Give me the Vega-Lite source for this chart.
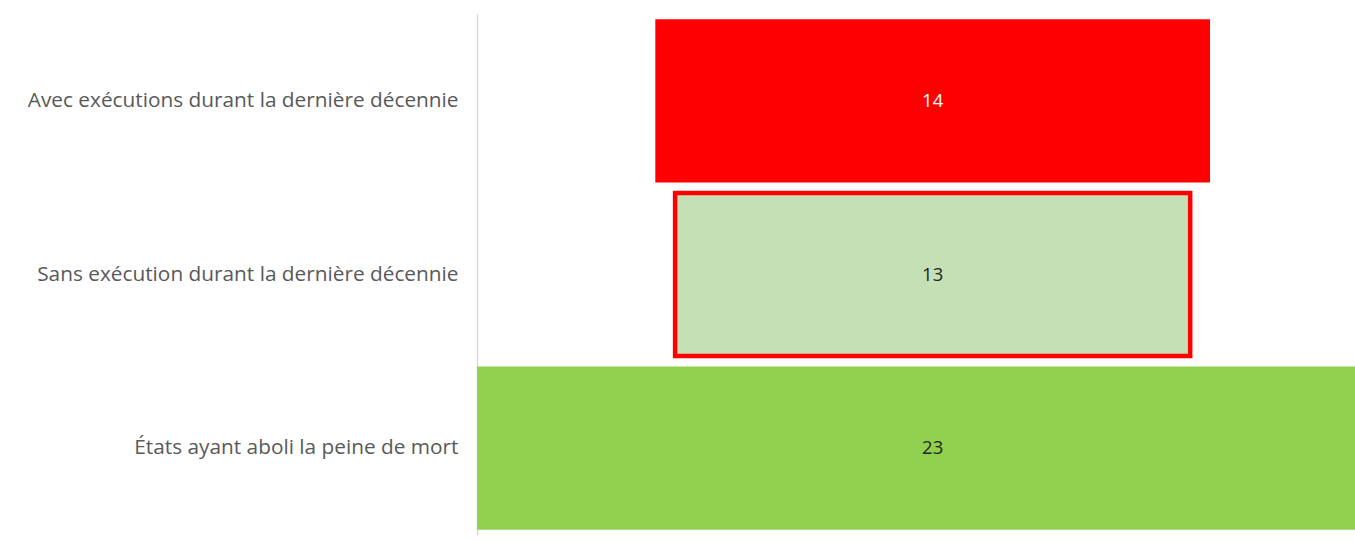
{
  "$schema": "https://vega.github.io/schema/vega-lite/v6.json",
  "autosize": {"type": "none"},
  "padding": {"left": 477, "top": 14, "right": 0, "bottom": 8},
  "width": 878,
  "height": 521,
  "background": "white",
  "config": {"view": {"stroke": null}, "font": "Open Sans"},
  "data": {
    "values": [
      {"categorie": "Avec exécutions durant la dernière décennie", "etats": 14},
      {"categorie": "Sans exécution durant la dernière décennie", "etats": 13},
      {"categorie": "États ayant aboli la peine de mort", "etats": 23}
    ]
  },
  "encoding": {
    "y": {
      "field": "categorie",
      "type": "nominal",
      "sort": null,
      "scale": {"paddingInner": 0.06, "paddingOuter": 0.03},
      "axis": {
        "title": null,
        "ticks": false,
        "domainColor": "#d9d9d9",
        "domainWidth": 1.5,
        "labelFont": "Open Sans",
        "labelFontSize": 20.8,
        "labelColor": "#595959",
        "labelPadding": 19,
        "labelLimit": 600
      }
    }
  },
  "layer": [
    {
      "mark": {"type": "bar", "clip": true, "strokeWidth": 4.5},
      "encoding": {
        "x": {
          "field": "etats",
          "type": "quantitative",
          "stack": "center",
          "scale": {"domain": [0, 22.16], "nice": false, "zero": false},
          "axis": null
        },
        "color": {
          "field": "categorie",
          "type": "nominal",
          "scale": {
            "domain": ["Avec exécutions durant la dernière décennie", "Sans exécution durant la dernière décennie", "États ayant aboli la peine de mort"],
            "range": ["#ff0000", "#c5e0b4", "#92d050"]
          },
          "legend": null
        },
        "stroke": {
          "condition": {"test": "datum.categorie === 'Sans exécution durant la dernière décennie'", "value": "#ff0000"},
          "value": null
        }
      }
    },
    {
      "mark": {"type": "text", "font": "Open Sans", "fontSize": 18.5, "align": "center", "baseline": "middle"},
      "encoding": {
        "x": {"datum": 11.5, "type": "quantitative"},
        "text": {"field": "etats", "type": "quantitative"},
        "color": {
          "condition": {"test": "datum.etats === 14", "value": "#ffffff"},
          "value": "#262626"
        }
      }
    }
  ]
}
